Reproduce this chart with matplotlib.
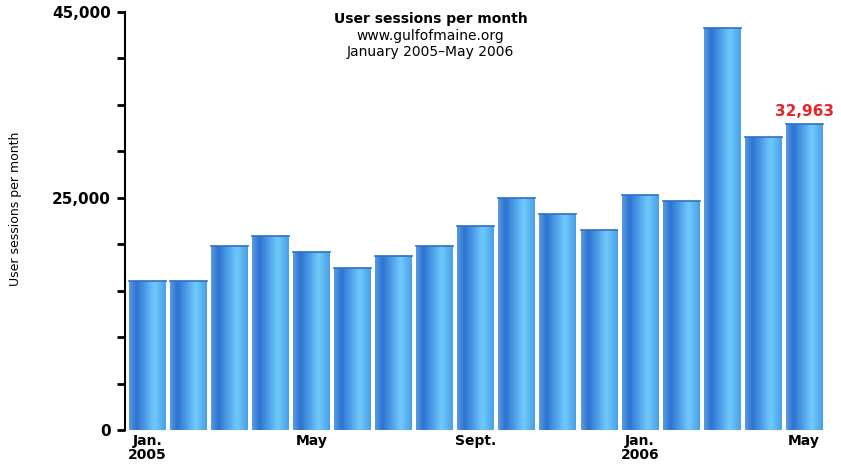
import numpy as np
import matplotlib.pyplot as plt
from matplotlib.colors import LinearSegmentedColormap

# 月度用户会话数据 (2005.1 - 2006.5)
months = ['Jan', 'Feb', 'Mar', 'Apr', 'May', 'Jun', 'Jul', 'Aug', 'Sep',
          'Oct', 'Nov', 'Dec', 'Jan', 'Feb', 'Mar', 'Apr', 'May']
sessions = [16000, 16000, 19800, 20900, 19200, 17400, 18700, 19800, 22000,
            25000, 23300, 21500, 25300, 24600, 43300, 31500, 32963]
tick_pos = [0, 4, 8, 12, 16]
tick_labels = ['Jan.\n2005', 'May', 'Sept.', 'Jan.\n2006', 'May']
y_labels = {0: '0', 25000: '25,000', 45000: '45,000'}

plt.rcParams['font.family'] = ['DejaVu Sans']

fig = plt.figure(figsize=(8.41, 4.70), dpi=100)
ax = fig.add_axes([0.1486, 0.0851, 0.832, 0.8894])

x = np.arange(len(sessions))
bars = ax.bar(x, sessions, width=0.9, color='none', edgecolor='none', zorder=2)

# 横向渐变填充柱子
cmap = LinearSegmentedColormap.from_list('bar', [
    (0.0, '#5a9be0'), (0.2, '#2c72d0'), (0.45, '#4f9ee8'),
    (0.7, '#70cafb'), (1.0, '#4aa0e6')])
grad = np.linspace(0, 1, 64).reshape(1, -1)
for b in bars:
    x0, y0 = b.get_x(), b.get_y()
    w, h = b.get_width(), b.get_height()
    im = ax.imshow(grad, cmap=cmap, aspect='auto', zorder=2,
                   extent=(x0, x0 + w, y0, y0 + h), interpolation='bicubic')
    im.set_clip_path(b)
    ax.plot([x0, x0 + w], [y0 + h, y0 + h], color='#2d6fc4', lw=1.2, zorder=3)

ax.set_xlim(-0.55, 16.5)
ax.set_ylim(0, 45000)

ax.set_yticks(np.arange(0, 45001, 5000))
ax.set_yticklabels([y_labels.get(v, '') for v in range(0, 45001, 5000)],
                   fontsize=11, fontweight='bold')
ax.tick_params(axis='y', length=6, width=2, direction='out', pad=4)
ax.set_xticks(tick_pos)
ax.set_xticklabels(tick_labels, fontsize=10, fontweight='bold',
                   linespacing=0.95)
ax.tick_params(axis='x', length=0, pad=3)

for s in ['top', 'right', 'bottom']:
    ax.spines[s].set_visible(False)
ax.spines['left'].set_linewidth(1.5)

ax.set_ylabel('User sessions per month', fontsize=9)
ax.yaxis.set_label_coords(-0.147, 0.53)

fig.text(0.512, 0.950, 'User sessions per month', ha='center', fontsize=10,
         fontweight='bold')
fig.text(0.512, 0.914, 'www.gulfofmaine.org', ha='center', fontsize=10)
fig.text(0.512, 0.881, 'January 2005\u2013May 2006', ha='center', fontsize=10)

ax.text(16, sessions[-1] + 500, '32,963', ha='center', va='bottom',
        color='#e8232a', fontsize=11, fontweight='bold')

plt.savefig('out.png', dpi=100)
